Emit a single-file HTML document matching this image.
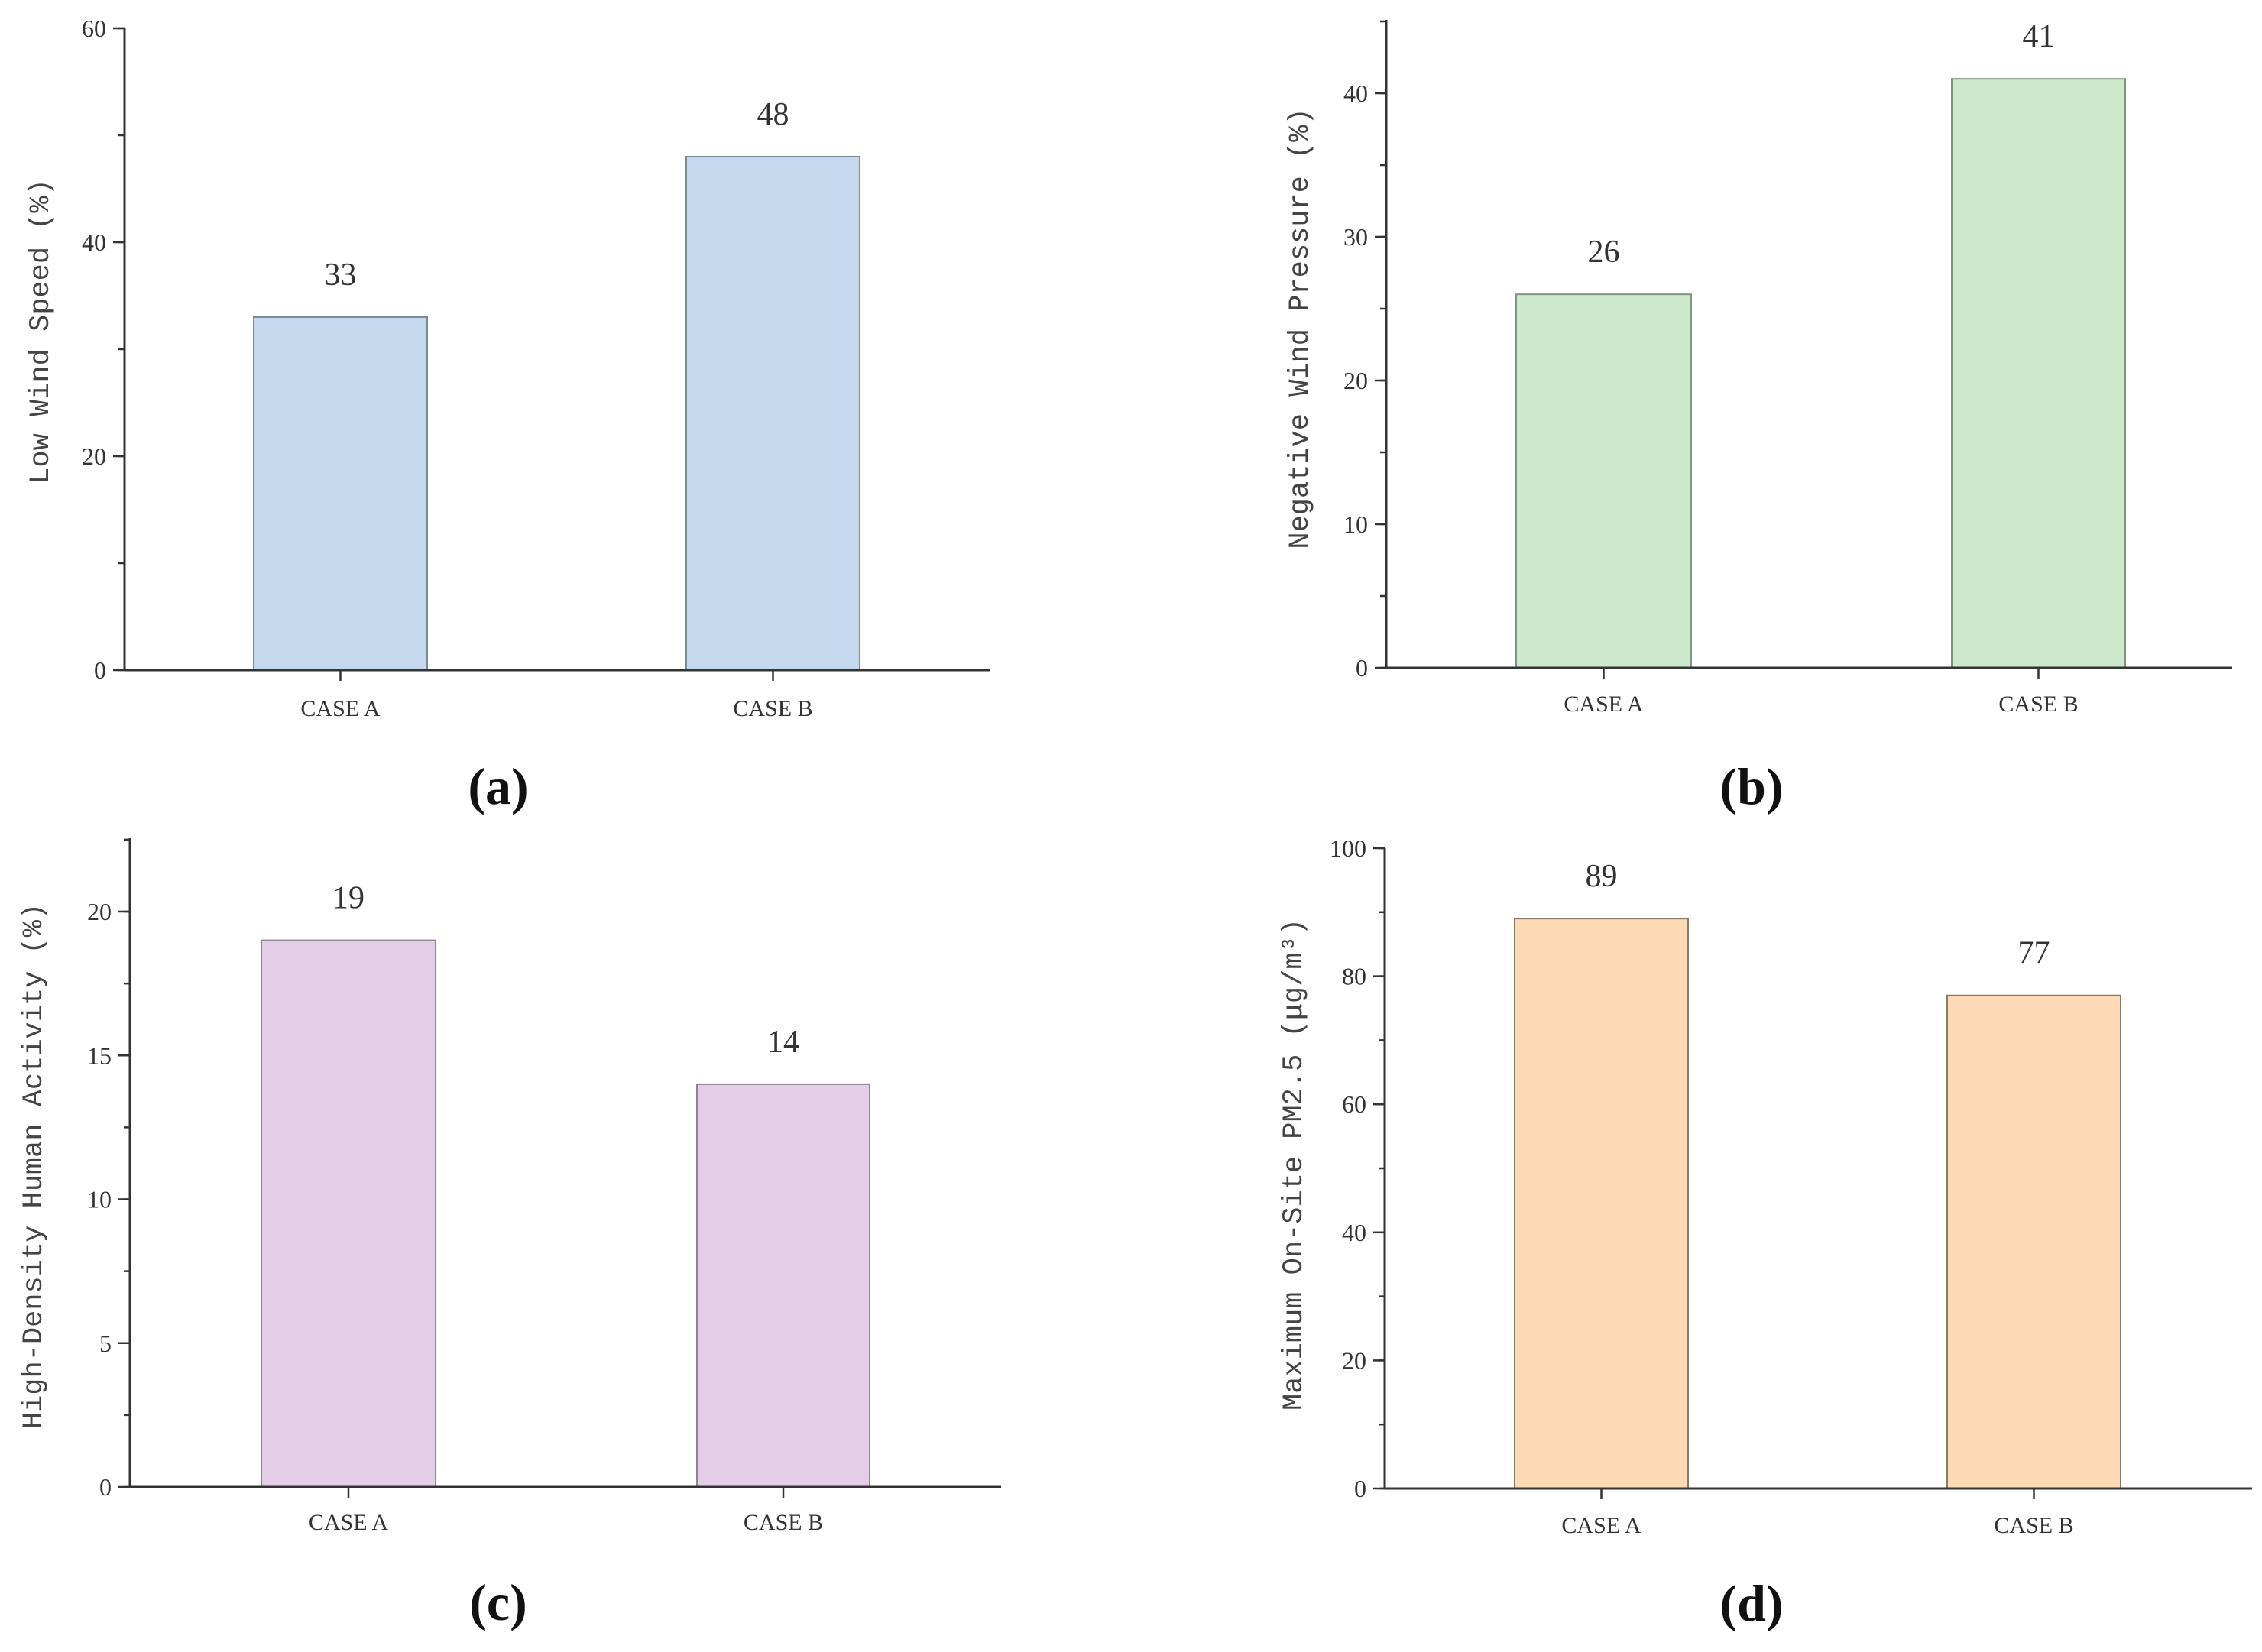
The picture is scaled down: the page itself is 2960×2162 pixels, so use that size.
<!DOCTYPE html>
<html><head><meta charset="utf-8"><style>
html,body{margin:0;padding:0;background:#fff}
svg{display:block}
</style></head><body>
<svg id="fig" width="2960" height="2162" viewBox="0 0 2960 2162" xmlns="http://www.w3.org/2000/svg"></svg>
<script>
const categories = ["CASE A", "CASE B"];
const valuesA = [33, 48];
const valuesB = [26, 41];
const valuesC = [19, 14];
const valuesD = [89, 77];
const ticksA = [0, 20, 40, 60];
const ticksB = [0, 10, 20, 30, 40];
const ticksC = [0, 5, 10, 15, 20];
const ticksD = [0, 20, 40, 60, 80, 100];

const panels = [
  {id:'a', vals:valuesA, ticks:ticksA, minor:10, max:60, ax:163, ax2:1296, y0:877, yMaxPx:37, axTop:37,
   bars:[[332,559],[898,1125]], fill:'#c5d9ee', stroke:'#7d8b99', title:'Low Wind Speed (%)', tx:51, ty:434,
   catY:927, cap:'(a)', cx:652, cy:1028},
  {id:'b', vals:valuesB, ticks:ticksB, minor:5, max:40, ax:1814, ax2:2921, y0:874, yMaxPx:122, axTop:26,
   bars:[[1984,2213],[2554,2781]], fill:'#cde9cb', stroke:'#7f947d', title:'Negative Wind Pressure (%)', tx:1699, ty:430,
   catY:921, cap:'(b)', cx:2292, cy:1028},
  {id:'c', vals:valuesC, ticks:ticksC, minor:2.5, max:20, ax:170, ax2:1310, y0:1946, yMaxPx:1193, axTop:1097,
   bars:[[342,570],[912,1138]], fill:'#e3cde7', stroke:'#8f8294', title:'High-Density Human Activity (%)', tx:42, ty:1526,
   catY:1992, cap:'(c)', cx:652, cy:2096},
  {id:'d', vals:valuesD, ticks:ticksD, minor:10, max:100, ax:1812, ax2:2947, y0:1948, yMaxPx:1110, axTop:1110,
   bars:[[1982,2209],[2548,2775]], fill:'#fddab6', stroke:'#8a7a6a', title:'Maximum On-Site PM2.5 (\u03bcg/m\u00b3)', tx:1691, ty:1524,
   catY:1996, cap:'(d)', cx:2292, cy:2097}
];

const NS = 'http://www.w3.org/2000/svg';
const svg = document.getElementById('fig');
function mk(tag, attrs, parent){
  const e = document.createElementNS(NS, tag);
  for (const k in attrs) e.setAttribute(k, attrs[k]);
  (parent||svg).appendChild(e);
  return e;
}

panels.forEach(p => {
  const g = mk('g', {});
  
  
  const ys = v => p.y0 - (v / p.max) * (p.y0 - p.yMaxPx);
  p.vals.forEach((v, i) => {
    const [x1, x2] = p.bars[i];
    const r = mk('rect', {x:x1, y:ys(v), width:x2-x1, height:p.y0-ys(v), fill:p.fill, stroke:p.stroke, 'stroke-width':2}, g);
    
    
    const t = mk('text', {x:(x1+x2)/2, y:ys(v)-42, 'text-anchor':'middle', 'font-family':'Liberation Serif, serif', 'font-size':42, fill:'#333'}, g);
    t.textContent = v;
    
    
    mk('line', {x1:(x1+x2)/2, x2:(x1+x2)/2, y1:p.y0, y2:p.y0+14, stroke:'#333', 'stroke-width':2.5}, g);
    const c = mk('text', {x:(x1+x2)/2, y:p.catY+10, 'text-anchor':'middle', 'font-family':'Liberation Serif, serif', 'font-size':30, fill:'#333'}, g);
    c.textContent = categories[i];
    
    
  });
  const ya = mk('line', {x1:p.ax, x2:p.ax, y1:p.axTop, y2:p.y0, stroke:'#333', 'stroke-width':3}, g);
  
  
  const xa = mk('line', {x1:p.ax, x2:p.ax2, y1:p.y0, y2:p.y0, stroke:'#333', 'stroke-width':3}, g);
  
  
  const topVal = p.max * (p.y0 - p.axTop) / (p.y0 - p.yMaxPx);
  for (let v = 0; v <= topVal + 0.01; v += p.minor) {
    mk('line', {x1:p.ax-8, x2:p.ax, y1:ys(v), y2:ys(v), stroke:'#333', 'stroke-width':2.5}, g);
  }
  p.ticks.forEach(v => {
    mk('line', {x1:p.ax-15, x2:p.ax, y1:ys(v), y2:ys(v), stroke:'#333', 'stroke-width':2.5}, g);
    const t = mk('text', {x:p.ax-24, y:ys(v)+11, 'text-anchor':'end', 'font-family':'Liberation Serif, serif', 'font-size':32, fill:'#333'}, g);
    t.textContent = v;
    
    
  });
  const tt = mk('text', {x:0, y:0, 'text-anchor':'middle', transform:'translate(' + (p.tx+12) + ',' + p.ty + ') rotate(-90)', 'font-family':'Liberation Mono, monospace', 'font-size':37, fill:'#444'}, g);
  tt.textContent = p.title;
  
  
  const cap = mk('text', {x:p.cx, y:p.cy+24, 'text-anchor':'middle', 'font-family':'Liberation Serif, serif', 'font-size':68, 'font-weight':'bold', fill:'#111'}, g);
  cap.textContent = p.cap;
  
  
});
</script>
</body></html>
